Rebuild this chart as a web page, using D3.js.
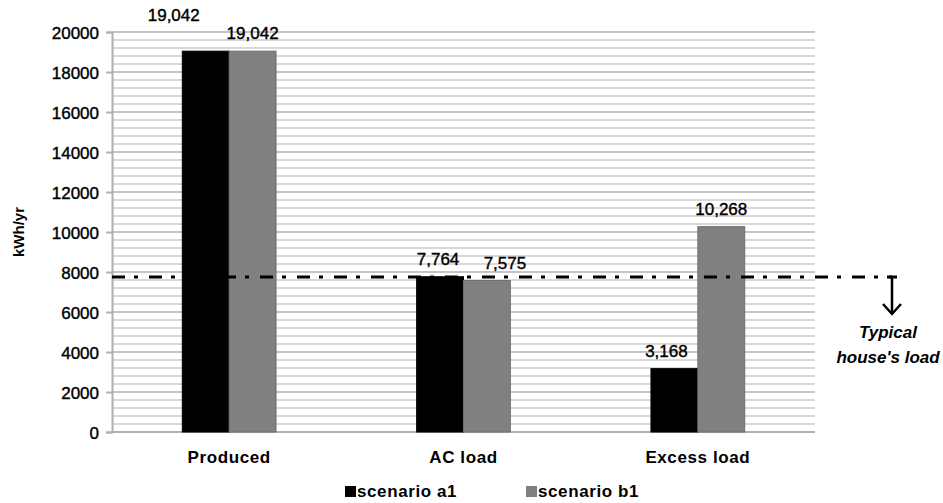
<!DOCTYPE html>
<html>
<head>
<meta charset="utf-8">
<script src="https://cdn.jsdelivr.net/npm/d3@7"></script>
<style>
  body { margin: 0; background: #fff; }
  svg { display: block; font-family: "Liberation Sans", Arial, sans-serif; }
</style>
</head>
<body>
<svg id="chart" width="943" height="503"></svg>
<script>
// Energy balance per scenario (kWh/yr)
const categories = ["Produced", "AC load", "Excess load"];
const seriesNames = ["scenario a1", "scenario b1"];
const scenarioA1 = [19042, 7764, 3168];
const scenarioB1 = [19042, 7575, 10268];
const seriesColors = ["#000000", "#808080"];
const yTicks = [0, 2000, 4000, 6000, 8000, 10000, 12000, 14000, 16000, 18000, 20000];
const houseLoad = 7750;
const houseLabel = ["Typical", "house's load"];

const svg = d3.select("#chart");
const margin = { left: 112, right: 128, top: 32, bottom: 71 };
const W = 943, H = 503;

const y = d3.scaleLinear().domain([0, 20000]).range([H - margin.bottom, margin.top]);
const x = d3.scaleBand().domain(categories).range([margin.left, W - margin.right]);
const fmt = d3.format(",");

// minor gridlines every 400
const minor = d3.range(400, 20001, 400).filter(v => v % 2000 !== 0);
svg.append("g").selectAll("line").data(minor).join("line")
  .attr("x1", margin.left).attr("x2", W - margin.right)
  .attr("y1", d => y(d)).attr("y2", d => y(d))
  .attr("stroke", "#d9d9d9").attr("stroke-width", 2);
// major gridlines
svg.append("g").selectAll("line").data(yTicks).join("line")
  .attr("x1", margin.left).attr("x2", W - margin.right)
  .attr("y1", d => y(d)).attr("y2", d => y(d))
  .attr("stroke", d => d === 0 ? "#b0b0b0" : "#c4c4c4").attr("stroke-width", 2);

// y axis
const yAxis = svg.append("g").attr("transform", `translate(${margin.left},0)`)
  .call(d3.axisLeft(y).tickValues(yTicks).tickSize(6).tickPadding(7).tickFormat(d => d));
yAxis.select(".domain").attr("stroke", "#b0b0b0").attr("stroke-width", 2);
yAxis.selectAll(".tick line").attr("stroke", "#b0b0b0").attr("stroke-width", 2);
yAxis.selectAll(".tick text").attr("font-size", 17).attr("fill", "#000")
  .attr("stroke", "#000").attr("stroke-width", 0.4)
  .attr("font-family", "Liberation Sans, Arial, sans-serif").attr("dy", "0.36em");

svg.append("text")
  .attr("transform", `translate(24,${y(10000)}) rotate(-90)`)
  .attr("text-anchor", "middle").attr("font-size", 15).attr("font-weight", "bold")
  .text("kWh/yr");

// bars
const series = [scenarioA1, scenarioB1];
categories.forEach((cat, i) => {
  const c = x(cat) + x.bandwidth() / 2;
  const bw = x.bandwidth() * 0.2;
  const sub = d3.scaleBand().domain(seriesNames).range([c - bw, c + bw]);
  series.forEach((vals, s) => {
    svg.append("rect")
      .attr("x", sub(seriesNames[s])).attr("width", sub.bandwidth())
      .attr("y", y(vals[i])).attr("height", y(0) - y(vals[i]))
      .attr("fill", seriesColors[s])
      .attr("stroke", s === 0 ? "#000" : "#707070").attr("stroke-width", 1);
  });
});

// value labels (nudged where neighbours would collide)
const nudges = { "0-0": [-32, -18], "1-0": [-2, 0], "1-1": [18, 0], "2-0": [-8, 0] };
categories.forEach((cat, i) => {
  const c = x(cat) + x.bandwidth() / 2;
  const bw = x.bandwidth() * 0.2;
  const sub = d3.scaleBand().domain(seriesNames).range([c - bw, c + bw]);
  series.forEach((vals, s) => {
    const n = nudges[`${i}-${s}`] || [0, 0];
    svg.append("text")
      .attr("x", sub(seriesNames[s]) + sub.bandwidth() / 2 + n[0])
      .attr("y", y(vals[i]) - 12 + n[1])
      .attr("text-anchor", "middle").attr("font-size", 17)
      .attr("stroke", "#000").attr("stroke-width", 0.4)
      .text(fmt(vals[i]));
  });
});

// category labels
svg.append("g").selectAll("text").data(categories).join("text")
  .attr("x", d => x(d) + x.bandwidth() / 2).attr("y", y(0) + 31)
  .attr("text-anchor", "middle").attr("font-size", 17).attr("font-weight", "bold")
  .attr("letter-spacing", "0.6px").text(d => d);

// typical house load reference line
const yl = y(houseLoad);
const lineEnd = 892;
svg.append("line")
  .attr("x1", margin.left).attr("x2", lineEnd).attr("y1", yl).attr("y2", yl)
  .attr("stroke", "#000").attr("stroke-width", 3)
  .attr("stroke-dasharray", "13,9,4,11");
svg.append("line").attr("x1", lineEnd - 5).attr("x2", lineEnd + 5)
  .attr("y1", yl).attr("y2", yl).attr("stroke", "#000").attr("stroke-width", 3);
svg.append("line").attr("x1", lineEnd).attr("x2", lineEnd)
  .attr("y1", yl).attr("y2", yl + 37).attr("stroke", "#000").attr("stroke-width", 2.5);
svg.append("path")
  .attr("d", `M${lineEnd - 9},${yl + 27} L${lineEnd},${yl + 37} L${lineEnd + 9},${yl + 27}`)
  .attr("fill", "none").attr("stroke", "#000").attr("stroke-width", 2.5);
houseLabel.forEach((t, k) => {
  svg.append("text").attr("x", lineEnd - 4).attr("y", yl + 61 + k * 25)
    .attr("text-anchor", "middle").attr("font-size", 17)
    .attr("font-weight", "bold").attr("font-style", "italic").text(t);
});

// legend
const legendX = [345, 526];
seriesNames.forEach((name, s) => {
  const g = svg.append("g").attr("transform", `translate(${legendX[s]},${H - 6})`);
  g.append("rect").attr("x", 0).attr("y", -11).attr("width", 11).attr("height", 11)
    .attr("fill", seriesColors[s]);
  g.append("text").attr("x", 12).attr("y", 0).attr("font-size", 17)
    .attr("font-weight", "bold").attr("letter-spacing", "0.6px").text(name);
});
</script>
</body>
</html>
